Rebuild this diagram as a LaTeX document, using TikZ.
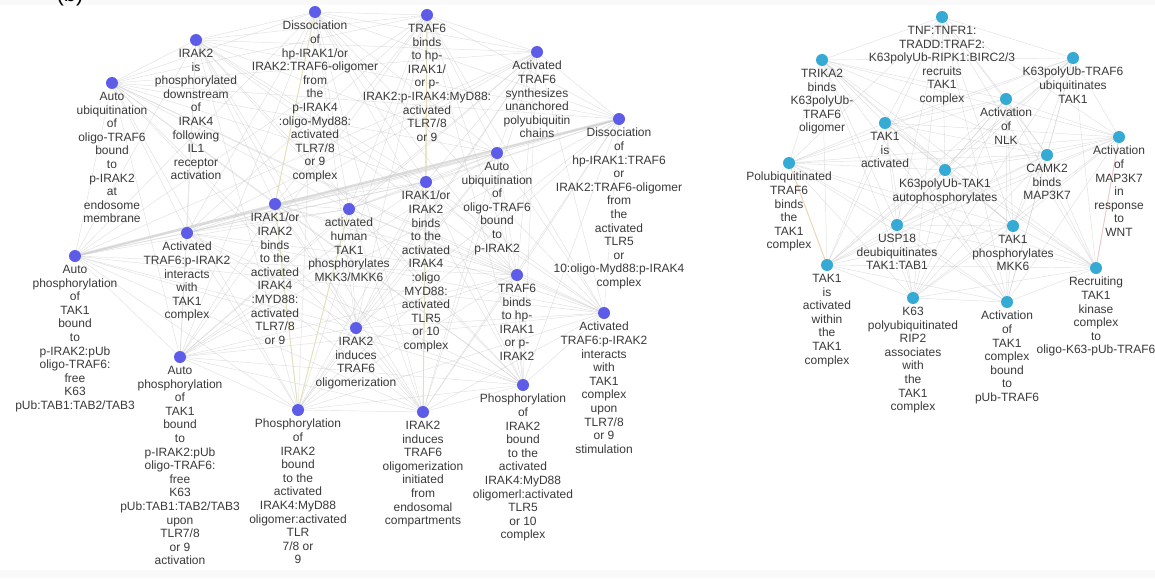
\documentclass[tikz,border=0pt]{standalone}
\usepackage{fontspec}
\setmainfont{Liberation Sans}
\usetikzlibrary{backgrounds}
\definecolor{dotL}{RGB}{92,92,232}
\definecolor{dotR}{RGB}{52,170,212}
\definecolor{txt}{RGB}{58,58,58}
\definecolor{edgec}{RGB}{205,205,205}
\definecolor{yedge}{RGB}{226,224,180}
\definecolor{pedge}{RGB}{238,198,198}
\definecolor{oedge}{RGB}{240,210,170}
\tikzset{
  lbl/.style={font=\fontsize{12}{13.6}\selectfont, align=center, text=txt, inner sep=0pt},
  dotnode/.style={circle, minimum size=12pt, inner sep=0pt, outer sep=0pt},
  ldot/.style={dotnode, fill=dotL},
  rdot/.style={dotnode, fill=dotR},
  netedge/.style={draw=edgec, line width=0.45pt, opacity=0.6},
  thickedge/.style={draw=edgec, line width=2.6pt, opacity=0.5},
  yeledge/.style={draw=yedge, line width=0.8pt},
  pinkedge/.style={draw=pedge, line width=0.8pt},
  orangeedge/.style={draw=oedge, line width=0.8pt},
  lab/.style={label={[lbl,label distance=3pt]below:{#1}}}
}
\begin{document}
\begin{tikzpicture}[x=1pt,y=-1pt]
\useasboundingbox (0,0) rectangle (1155,578);
\node[font=\fontsize{22}{22}\selectfont, text=black, inner sep=0pt] (blabel) at (70,-4) {(b)};

% left network
\node[ldot, lab={Auto\\ubiquitination\\of\\oligo-TRAF6\\bound\\to\\p-IRAK2\\at\\endosome\\membrane}] (L1) at (112,83) {};
\node[ldot, lab={IRAK2\\is\\phosphorylated\\downstream\\of\\IRAK4\\following\\IL1\\receptor\\activation}] (L2) at (196,40) {};
\node[ldot, lab={Dissociation\\of\\hp-IRAK1/or\\IRAK2:TRAF6-oligomer\\from\\the\\p-IRAK4\\:oligo-Myd88:\\activated\\TLR7/8\\or 9\\complex}] (L3) at (315,12) {};
\node[ldot, lab={TRAF6\\binds\\to hp-\\IRAK1/\\or p-\\IRAK2:p-IRAK4:MyD88:\\activated\\TLR7/8\\or 9}] (L4) at (427,15) {};
\node[ldot, lab={Activated\\TRAF6\\synthesizes\\unanchored\\polyubiquitin\\chains}] (L5) at (537,52) {};
\node[ldot, lab={Dissociation\\of\\hp-IRAK1:TRAF6\\or\\IRAK2:TRAF6-oligomer\\from\\the\\activated\\TLR5\\or\\10:oligo-Myd88:p-IRAK4\\complex}] (L6) at (619,119) {};
\node[ldot, lab={Auto\\ubiquitination\\of\\oligo-TRAF6\\bound\\to\\p-IRAK2}] (L7) at (497,153) {};
\node[ldot, lab={IRAK1/or\\IRAK2\\binds\\to the\\activated\\IRAK4\\:oligo\\MYD88:\\activated\\TLR5\\or 10\\complex}] (L8) at (426,182) {};
\node[ldot, lab={IRAK1/or\\IRAK2\\binds\\to the\\activated\\IRAK4\\:MYD88:\\activated\\TLR7/8\\or 9}] (L9) at (275,204) {};
\node[ldot, lab={activated\\human\\TAK1\\phosphorylates\\MKK3/MKK6}] (L10) at (349,209) {};
\node[ldot, lab={Activated\\TRAF6:p-IRAK2\\interacts\\with\\TAK1\\complex}] (L11) at (187,233) {};
\node[ldot, lab={Auto\\phosphorylation\\of\\TAK1\\bound\\to\\p-IRAK2:pUb\\oligo-TRAF6:\\free\\K63\\pUb:TAB1:TAB2/TAB3}] (L12) at (75,256) {};
\node[ldot, lab={Auto\\phosphorylation\\of\\TAK1\\bound\\to\\p-IRAK2:pUb\\oligo-TRAF6:\\free\\K63\\pUb:TAB1:TAB2/TAB3\\upon\\TLR7/8\\or 9\\activation}] (L13) at (180,357) {};
\node[ldot, lab={IRAK2\\induces\\TRAF6\\oligomerization}] (L14) at (356,328) {};
\node[ldot, lab={Phosphorylation\\of\\IRAK2\\bound\\to the\\activated\\IRAK4:MyD88\\oligomer:activated\\TLR\\7/8 or\\9}] (L15) at (298,410) {};
\node[ldot, lab={IRAK2\\induces\\TRAF6\\oligomerization\\initiated\\from\\endosomal\\compartments}] (L16) at (423,412) {};
\node[ldot, lab={TRAF6\\binds\\to hp-\\IRAK1\\or p-\\IRAK2}] (L17) at (517,275) {};
\node[ldot, lab={Activated\\TRAF6:p-IRAK2\\interacts\\with\\TAK1\\complex\\upon\\TLR7/8\\or 9\\stimulation}] (L18) at (604,313) {};
\node[ldot, lab={Phosphorylation\\of\\IRAK2\\bound\\to the\\activated\\IRAK4:MyD88\\oligomerl:activated\\TLR5\\or 10\\complex}] (L19) at (523,385) {};

% right network
\node[rdot, lab={TNF:TNFR1:\\TRADD:TRAF2:\\K63polyUb-RIPK1:BIRC2/3\\recruits\\TAK1\\complex}] (R1) at (942,17) {};
\node[rdot, lab={TRIKA2\\binds\\K63polyUb-\\TRAF6\\oligomer}] (R2) at (822,60) {};
\node[rdot, lab={K63polyUb-TRAF6\\ubiquitinates\\TAK1}] (R3) at (1073,58) {};
\node[rdot, lab={Activation\\of\\NLK}] (R4) at (1006,99) {};
\node[rdot, lab={TAK1\\is\\activated}] (R5) at (885,123) {};
\node[rdot, lab={Activation\\of\\MAP3K7\\in\\response\\to\\WNT}] (R6) at (1119,137) {};
\node[rdot, lab={CAMK2\\binds\\MAP3K7}] (R7) at (1047,155) {};
\node[rdot, lab={Polubiquitinated\\TRAF6\\binds\\the\\TAK1\\complex}] (R8) at (789,163) {};
\node[rdot, lab={K63polyUb-TAK1\\autophosphorylates}] (R9) at (945,170) {};
\node[rdot, lab={USP18\\deubiquitinates\\TAK1:TAB1}] (R10) at (897,225) {};
\node[rdot, lab={TAK1\\phosphorylates\\MKK6}] (R11) at (1013,226) {};
\node[rdot, lab={TAK1\\is\\activated\\within\\the\\TAK1\\complex}] (R12) at (827,265) {};
\node[rdot, lab={Recruiting\\TAK1\\kinase\\complex\\to\\oligo-K63-pUb-TRAF6}] (R13) at (1096,268) {};
\node[rdot, lab={K63\\polyubiquitinated\\RIP2\\associates\\with\\the\\TAK1\\complex}] (R14) at (913,298) {};
\node[rdot, lab={Activation\\of\\TAK1\\complex\\bound\\to\\pUb-TRAF6}] (R15) at (1007,302) {};

\begin{pgfonlayer}{background}
  \fill[white] (0,0) rectangle (1155,578);
  \fill[gray!5] (0,0) rectangle (1155,5);
  \fill[gray!5] (0,570) rectangle (1155,578);
  \foreach \i in {1,...,18}{
    \pgfmathtruncatemacro\kk{\i+1}
    \foreach \j in {\kk,...,19}{ \draw[netedge] (L\i) -- (L\j); }
  }
  \foreach \i in {1,...,14}{
    \pgfmathtruncatemacro\kk{\i+1}
    \foreach \j in {\kk,...,15}{ \draw[netedge] (R\i) -- (R\j); }
  }
  \draw[thickedge] (L12) -- (L6);
  \draw[yeledge] (L4) -- (L8);
  \draw[yeledge] (L3) -- (L9);
  \draw[yeledge] (L15) -- (L10);
  \draw[yeledge] (L15) -- (L9);
  \draw[yeledge] (L16) -- (L8);
  \draw[pinkedge] (R13) -- (R6);
  \draw[orangeedge] (R12) -- (R8);
\end{pgfonlayer}
\end{tikzpicture}
\end{document}
